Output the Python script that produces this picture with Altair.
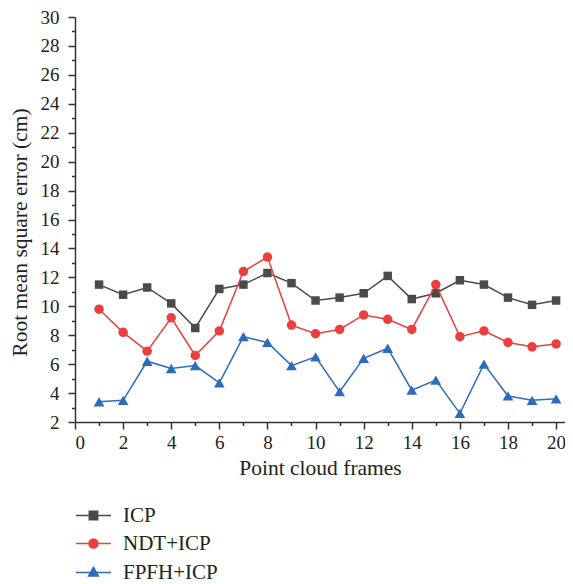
import altair as alt
import pandas as pd

frames = list(range(1, 21))
icp = [11.5, 10.8, 11.3, 10.2, 8.5, 11.2, 11.5, 12.3, 11.6, 10.4,
       10.6, 10.9, 12.1, 10.5, 10.9, 11.8, 11.5, 10.6, 10.1, 10.4]
ndt_icp = [9.8, 8.2, 6.9, 9.2, 6.6, 8.3, 12.4, 13.4, 8.7, 8.1,
           8.4, 9.4, 9.1, 8.4, 11.5, 7.9, 8.3, 7.5, 7.2, 7.4]
fpfh_icp = [3.4, 3.5, 6.2, 5.7, 5.9, 4.7, 7.9, 7.5, 5.9, 6.5,
            4.1, 6.4, 7.1, 4.2, 4.9, 2.6, 6.0, 3.8, 3.5, 3.6]
series_names = ["ICP", "NDT+ICP", "FPFH+ICP"]
series_values = [icp, ndt_icp, fpfh_icp]
colors = ["#4a4a4a", "#e8403f", "#2e6bbd"]
shapes = ["square", "circle", "triangle-up"]
sizes = [72, 90, 115]
legend_paths = [
    "M-1,0L1,0M-0.24,-0.24L0.24,-0.24L0.24,0.24L-0.24,0.24Z",
    "M-1,0L1,0M0.26,0A0.26,0.26 0 1,1 -0.26,0A0.26,0.26 0 1,1 0.26,0Z",
    "M-1,0L1,0M0,-0.3L0.28,0.2L-0.28,0.2Z",
]
legend_ys = [480, 508, 537]

FONT = "Liberation Serif"
TXT = "#222222"

y_ticks = list(range(2, 31))
x_ticks = list(range(0, 21))

x_enc = alt.X(
    "frame:Q",
    scale=alt.Scale(domain=[0, 20.37], nice=False, zero=False),
    axis=alt.Axis(
        title="Point cloud frames",
        values=x_ticks,
        labelExpr="datum.value % 2 == 0 ? datum.label : ''",
        tickSize={"condition": {"test": "datum.value % 2 == 0", "value": 7}, "value": 3.5},
        labelFont=FONT, titleFont=FONT,
        labelFontSize=19, titleFontSize=21.5, titlePadding=5,
        labelPadding=4,
    ),
)
y_enc = alt.Y(
    "value:Q",
    scale=alt.Scale(domain=[2, 30], nice=False, zero=False),
    axis=alt.Axis(
        title="Root mean square error (cm)",
        values=y_ticks,
        labelExpr="datum.value % 2 == 0 ? datum.label : ''",
        tickSize={"condition": {"test": "datum.value % 2 == 0", "value": 7}, "value": 3.5},
        labelFont=FONT, titleFont=FONT,
        labelFontSize=19, titleFontSize=21.5, titlePadding=9,
        labelPadding=9, titleY=215,
    ),
)

layers = []
for name, vals, col, shp, sz, path, ly in zip(series_names, series_values, colors,
                                               shapes, sizes, legend_paths, legend_ys):
    df = pd.DataFrame({"frame": frames, "value": vals, "series": name})
    color_enc = alt.Color(
        "series:N",
        scale=alt.Scale(domain=[name], range=[col]),
        legend=alt.Legend(
            orient="none", legendX=0, legendY=ly, title=None,
            symbolType=path, symbolSize=1225, symbolStrokeWidth=1.5,
            symbolFillColor=col, symbolStrokeColor=col, symbolOpacity=1,
            labelFont=FONT, labelFontSize=21, labelColor=TXT, labelOffset=11,
            padding=0,
        ),
    )
    base = alt.Chart(df).encode(x=x_enc, y=y_enc, color=color_enc)
    line = base.mark_line(strokeWidth=1.5)
    pts = base.mark_point(shape=shp, filled=True, size=sz, opacity=1)
    layers.append(alt.layer(line, pts))

chart = (
    alt.layer(*layers)
    .resolve_scale(color="independent")
    .resolve_legend(color="independent")
    .properties(
        width=490, height=405,
        autosize=alt.AutoSizeParams(type="none"),
        padding={"left": 67, "top": 9, "right": 0, "bottom": 175},
    )
    .configure_view(stroke=None)
    .configure_axis(
        grid=False, labelFont=FONT, titleFont=FONT, labelColor=TXT, titleColor=TXT,
        titleFontWeight="normal", domainColor="#333333", domainWidth=1.5,
        tickColor="#333333", tickWidth=1.5,
    )
)

chart.save("out.html", embed_options={"renderer": "svg", "actions": False})
